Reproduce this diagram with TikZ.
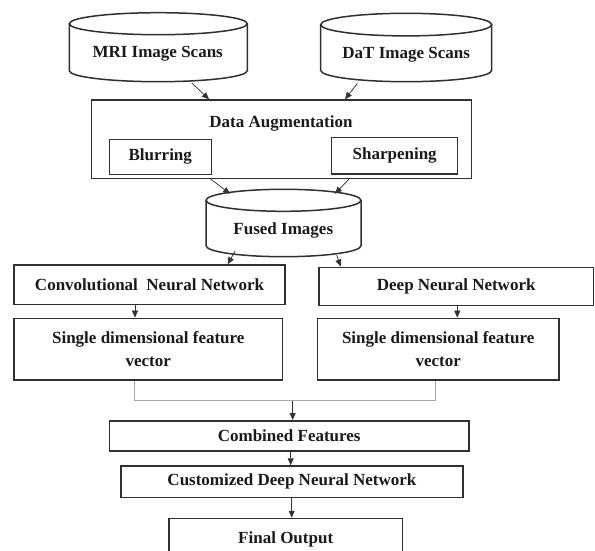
\documentclass[tikz,border=0pt]{standalone}
\usepackage{fontspec}
\setmainfont{Liberation Serif}
\usetikzlibrary{arrows.meta,calc}
\definecolor{ink}{HTML}{1A1A1A}
\definecolor{edge}{HTML}{303030}
\definecolor{thin}{HTML}{333333}
\definecolor{lightline}{HTML}{A8A8A8}
\begin{document}
\begin{tikzpicture}[x=1pt,y=1pt,
  txt/.style={font=\fontsize{17}{22.4}\selectfont\bfseries, text=ink, inner sep=0pt, align=center},
  box/.style={draw=edge, line width=1.5pt, inner sep=0pt, align=center,
              font=\fontsize{17}{22.4}\selectfont\bfseries, text=ink},
  ghost/.style={draw=none, inner sep=0pt},
  cylline/.style={draw=edge, line width=1.5pt},
  conn/.style={draw=thin, line width=0.75pt, -{Triangle[length=7pt,width=6pt]}},
  joinline/.style={draw=lightline, line width=1pt}
]
\useasboundingbox (0,0) rectangle (595,-551);
\clip (0,0) rectangle (595,-551);
\fill[white] (0,0) rectangle (595,-551);

% ---- cylinders (drawn directly) ----
% MRI
\draw[cylline] (158.3,-23.7) ellipse [x radius=89, y radius=11];
\draw[cylline] (69.3,-23.7) -- (69.3,-70.7) arc[start angle=180, end angle=360, x radius=89, y radius=11] -- (247.3,-23.7);
\node[ghost, minimum width=178pt, minimum height=69pt] (mri) at (158.3,-47.2) {};
\node[txt] (mrit) at (157.7,-53.5) {MRI Image Scans};
% DaT
\draw[cylline] (406.2,-24.6) ellipse [x radius=85.5, y radius=11.3];
\draw[cylline] (320.7,-24.6) -- (320.7,-70.4) arc[start angle=180, end angle=360, x radius=85.5, y radius=11.3] -- (491.7,-24.6);
\node[ghost, minimum width=171pt, minimum height=68.4pt] (dat) at (406.2,-47.5) {};
\node[txt] (datt) at (406.2,-54.3) {DaT Image Scans};
% Fused
\draw[cylline] (283.5,-200.3) ellipse [x radius=77.5, y radius=11];
\draw[cylline] (206,-200.3) -- (206,-245.7) arc[start angle=180, end angle=360, x radius=77.5, y radius=11] -- (361,-200.3);
\node[ghost, minimum width=155pt, minimum height=67.4pt] (fused) at (283.5,-223) {};
\node[txt] (fusedt) at (283.3,-230) {Fused Images};

% ---- boxes ----
\node[box, minimum width=380pt, minimum height=78.3pt] (da) at (281.7,-139.15) {};
\node[txt] (dat2) at (281,-123.3) {Data Augmentation};
\node[box, minimum width=102pt, minimum height=35pt] (blur) at (160.3,-156.8) {Blurring};
\node[box, minimum width=126pt, minimum height=36.3pt] (sharp) at (394.7,-155.85) {Sharpening};

\node[box, minimum width=271pt, minimum height=39.3pt] (cnn) at (149.5,-284.7) {Convolutional~\ Neural Network};
\node[box, minimum width=274.3pt, minimum height=38.4pt] (dnn) at (456.2,-286.5) {Deep Neural Network};

\node[box, minimum width=268.7pt, minimum height=61.7pt] (sdfl) at (148.3,-349.2) {Single dimensional feature\\vector};
\node[box, minimum width=241.7pt, minimum height=61.7pt] (sdfr) at (438.2,-349.2) {Single dimensional feature\\vector};

\node[box, minimum width=359.7pt, minimum height=30.3pt] (comb) at (289.2,-435.9) {Combined Features};
\node[box, minimum width=341.7pt, minimum height=31.3pt] (cdnn) at (291.9,-481.7) {Customized Deep Neural Network};
\node[box, minimum width=233.3pt, minimum height=41.5pt] (final) at (285.7,-539.25) {Final Output};

% ---- connectors ----
\draw[conn] ([xshift=33.4pt,yshift=-1pt]mri.south) -- ([xshift=-72.7pt]da.north);
\draw[conn] ([xshift=-48.9pt,yshift=-1.6pt]dat.south) -- ([xshift=63.3pt]da.north);
\draw[conn] ([xshift=-71pt]da.south) -- ([xshift=-53.5pt,yshift=-4.7pt]fused.north);
\draw[conn] ([xshift=67.3pt]da.south) -- ([xshift=51.5pt,yshift=-4.7pt]fused.north);
\draw[conn] ([xshift=-48.5pt,yshift=5.7pt]fused.south) -- ([xshift=78.2pt]cnn.north);
\draw[conn] ([xshift=53.2pt,yshift=1.7pt]fused.south) -- ([xshift=-115.5pt]dnn.north);
\draw[conn] ([xshift=-14.5pt]cnn.south) -- ([xshift=-14.5pt]cnn.south |- sdfl.north);
\draw[conn] ([xshift=1.1pt]dnn.south) -- ([xshift=1.1pt]dnn.south |- sdfr.north);

\coordinate (join) at (292.7,-400.7);
\draw[joinline] ([xshift=-14.3pt]sdfl.south) |- (join) -| ([xshift=-3.2pt]sdfr.south);
\draw[conn] (join) -- (join |- comb.north);
\draw[conn] ([xshift=1.5pt]comb.south) -- ([xshift=1.5pt]comb.south |- cdnn.north);
\draw[conn] ([xshift=-0.2pt]cdnn.south) -- ([xshift=-0.2pt]cdnn.south |- final.north);
\end{tikzpicture}
\end{document}
